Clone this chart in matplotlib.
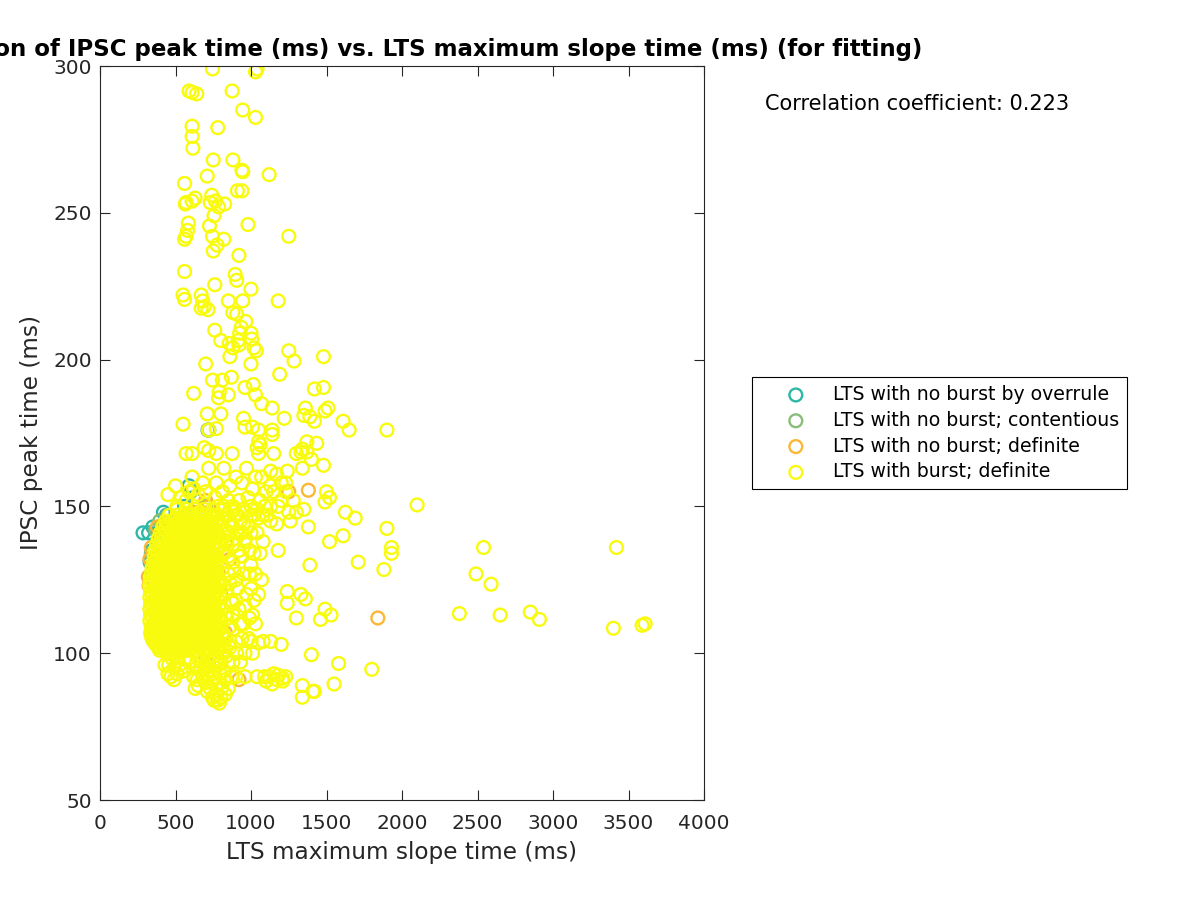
import matplotlib
matplotlib.use('Agg')
import matplotlib.pyplot as plt

# values, (x ms, y ms)
overrule = [(285, 141), (322, 141), (350, 143), (345, 135), (332, 131), (345, 127), (420, 148), (560, 150),
            (720, 176), (590, 157), (700, 150), (440, 147), (380, 141)]
contentious = [(395, 145), (340, 134), (370, 142), (345, 130), (715, 176), (450, 147), (600, 155), (640, 152)]
no_burst = [(1380, 155.5), (1840, 112), (920, 91), (1250, 155), (320, 126), (325, 123), (330, 132), (340, 136),
            (380, 143), (420, 144), (620, 148), (700, 152), (720, 150), (780, 128), (800, 120), (830, 107),
            (660, 105), (700, 99), (800, 97), (560, 101), (600, 108), (860, 132), (830, 138)]

burst_top = [(745, 299), (1040, 299), (1030, 298), (590, 291.5), (610, 291), (640, 290.5), (875, 291.5),
             (945, 285), (1030, 282.5), (610, 279.5), (780, 279), (610, 276), (615, 272), (880, 268), (750, 268),
             (940, 264.5), (945, 264), (1120, 263), (710, 262.5), (560, 260), (910, 257.5), (940, 257.5),
             (740, 256), (630, 255), (610, 254), (765, 254), (570, 253.5), (565, 253), (730, 253.5), (785, 252),
             (825, 253), (755, 249), (585, 246.5), (980, 246), (725, 245.5), (580, 244), (1250, 242), (570, 242),
             (560, 241), (820, 241), (745, 242), (775, 239), (750, 237), (920, 235.5), (560, 230), (895, 229),
             (905, 227), (760, 225.5), (1000, 224), (550, 222), (670, 222), (560, 220.5), (680, 220), (850, 220),
             (945, 220), (1180, 220), (690, 218), (670, 217.5), (715, 217), (880, 216), (905, 215.5), (965, 213),
             (935, 211), (925, 209), (1000, 209), (1005, 207), (915, 206.5), (760, 210), (800, 206.5), (855, 205.5),
             (880, 204), (920, 205), (1020, 204), (1035, 203), (1250, 203), (1285, 199.5), (1480, 201), (1000, 198.5),
             (700, 198.5), (860, 201), (1190, 195), (870, 194), (745, 193), (810, 193), (1015, 191.5), (1480, 190.5),
             (1420, 190), (960, 190.5), (790, 189), (1030, 188), (620, 188.5), (850, 188), (785, 187), (1070, 185),
             (1360, 183.5), (1510, 183.5), (1140, 183.5), (1490, 182.5), (800, 181.5), (710, 181.5), (1350, 181),
             (1390, 180.5), (1220, 180), (950, 180), (1610, 179), (1420, 179), (550, 178), (960, 177), (1010, 177),
             (1050, 176), (770, 176.5), (720, 176), (1900, 176), (1140, 176), (1650, 176), (1140, 174.5), (1050, 172),
             (1370, 172), (1435, 171.5), (1060, 171), (1040, 170), (1340, 169.5), (690, 170), (1330, 168.5),
             (1300, 168), (1370, 168.5), (720, 169), (770, 168), (610, 168), (570, 168), (875, 168), (1050, 168),
             (1150, 168), (1400, 166), (1480, 164), (1340, 163), (1130, 162), (1240, 162), (1170, 161)]

burst_right = [(2100, 150.5), (1625, 148), (1520, 153), (1500, 155), (1490, 151.5), (1350, 149), (1380, 143),
               (1900, 142.5), (1610, 140), (1520, 138), (1930, 136), (1930, 134), (2540, 136), (3420, 136),
               (1710, 131), (1390, 130), (1880, 128.5), (2490, 127), (2590, 123.5), (1240, 121), (1330, 120),
               (1360, 118.5), (1240, 117), (1490, 115), (2380, 113.5), (2850, 114), (2650, 113), (2910, 111.5),
               (1530, 113), (1460, 111.5), (1300, 112), (3400, 108.5), (3590, 109.5), (3610, 110), (1400, 99.5),
               (1580, 96.5), (1800, 94.5), (1200, 103), (1130, 104), (1080, 104), (1050, 103.5), (1340, 89),
               (1550, 89.5), (1410, 87), (1420, 87), (1340, 85), (1100, 90.5), (1120, 92), (1140, 89.5), (1170, 91),
               (1210, 90.5), (1230, 92), (1210, 91.5), (1090, 92), (1150, 93), (1180, 92.5), (1690, 146), (1230, 155),
               (1250, 148), (1280, 152), (1260, 145), (1200, 152), (1170, 144), (1130, 145), (1090, 150), (1180, 135),
               (1060, 134), (1020, 134), (1070, 125), (1050, 120), (1020, 118), (990, 135), (1000, 141), (1020, 147),
               (970, 120), (990, 112), (1000, 104), (1010, 100), (1040, 92), (950, 110), (960, 100), (1130, 157),
               (1180, 150), (1230, 158), (1100, 155), (1070, 160), (1010, 156), (970, 163), (940, 158), (900, 160),
               (860, 157), (820, 163), (770, 158), (720, 163), (680, 158), (610, 160), (590, 155), (500, 157),
               (450, 154), (880, 150), (920, 152), (960, 148), (1000, 150), (1050, 146), (1130, 150), (1300, 148)]

burst_low = [(430, 96), (450, 93), (470, 92), (490, 91), (510, 93), (540, 95), (560, 94), (590, 97), (630, 88),
             (650, 89), (680, 92), (700, 90), (730, 88), (745, 85), (755, 84), (770, 86), (790, 83), (800, 85),
             (830, 86), (850, 88), (870, 92), (900, 92), (930, 97), (960, 92), (640, 95), (670, 97), (700, 96),
             (730, 94), (760, 92), (790, 90), (820, 94), (850, 97), (440, 100), (480, 98), (520, 99), (560, 98),
             (650, 100), (690, 101), (730, 99), (770, 98), (810, 100), (860, 102), (900, 104), (620, 92),
             (455, 96), (490, 95), (525, 96), (470, 100), (505, 101), (540, 101), (645, 91), (665, 94), (690, 95),
             (715, 92), (740, 90), (770, 89), (805, 88), (760, 95), (795, 93), (830, 91), (715, 97), (745, 97),
             (785, 96), (835, 99), (880, 97), (905, 100), (660, 98), (710, 87), (780, 84)]

# looser ring of the cloud on its right side
burst_fringe = [(840, 112), (880, 108), (920, 115), (870, 118), (910, 122), (950, 127), (890, 128), (930, 133),
                (880, 137), (920, 141), (960, 138), (870, 144), (910, 147), (950, 144), (990, 127), (1030, 127),
                (1000, 122), (940, 105), (880, 113), (860, 124), (1030, 110), (985, 105), (1040, 141), (1080, 138),
                (1060, 152), (1105, 147), (980, 153), (1030, 160), (850, 152), (810, 155), (760, 153), (700, 155),
                (650, 154), (620, 156), (540, 153), (570, 152), (510, 150), (660, 148), (1150, 155), (1200, 158),
                (820, 150), (780, 150), (740, 147), (930, 110), (900, 118), (1010, 113), (960, 116), (1000, 130)]

# rows of the solid core of the cloud: y, then the x values on that row
core_rows = [
    (101, [395, 430, 470, 515, 550, 590, 640, 690, 735, 780, 820]),
    (102, [385, 415, 450, 490, 530, 570, 615, 660, 710, 755, 800]),
    (103, [370, 410, 455, 495, 540, 585, 625, 670, 715, 760, 800, 850]),
    (104, [355, 395, 435, 475, 520, 565, 605, 650, 695, 740, 785]),
    (105, [345, 385, 430, 470, 515, 555, 600, 650, 690, 730, 775, 830]),
    (106, [340, 365, 410, 450, 490, 530, 575, 620, 665, 705, 750]),
    (107, [335, 375, 415, 460, 500, 545, 590, 630, 675, 720, 765, 810]),
    (108, [350, 395, 440, 480, 525, 570, 610, 655, 700, 745, 790]),
    (109, [340, 385, 425, 465, 510, 550, 595, 640, 680, 725, 770, 860]),
    (110, [355, 400, 445, 485, 530, 570, 615, 660, 700, 745]),
    (111, [330, 370, 410, 455, 495, 540, 580, 625, 670, 710, 760, 800]),
    (112, [350, 395, 440, 480, 520, 565, 610, 650, 695, 740, 785]),
    (113, [335, 380, 420, 465, 505, 550, 590, 635, 680, 720, 770, 830]),
    (114, [355, 400, 445, 485, 530, 570, 615, 655, 700, 745]),
    (115, [330, 370, 415, 455, 500, 540, 585, 625, 670, 715, 755, 810]),
    (116, [350, 395, 440, 480, 525, 565, 610, 650, 695, 740, 785]),
    (117, [335, 375, 420, 460, 505, 545, 590, 635, 675, 720, 765, 880]),
    (118, [355, 395, 435, 475, 520, 560, 605, 645, 690, 735]),
    (119, [330, 370, 410, 455, 495, 540, 580, 625, 665, 710, 750, 800]),
    (120, [350, 395, 440, 480, 525, 570, 610, 655, 700, 745, 790]),
    (121, [335, 380, 425, 465, 510, 550, 595, 640, 685, 730, 775, 840]),
    (122, [355, 395, 440, 480, 520, 565, 610, 655, 695, 740]),
    (123, [330, 375, 415, 460, 500, 545, 590, 630, 675, 715, 760, 820]),
    (124, [350, 400, 440, 485, 530, 570, 615, 660, 700, 745, 800]),
    (125, [335, 380, 420, 465, 505, 550, 595, 640, 680, 725, 790, 900]),
    (126, [360, 400, 445, 490, 530, 575, 620, 660, 705, 750]),
    (127, [340, 385, 425, 470, 510, 555, 600, 640, 685, 730, 770, 850]),
    (128, [365, 405, 450, 490, 535, 580, 625, 665, 710, 755]),
    (129, [345, 390, 430, 475, 515, 560, 605, 645, 690, 745, 810]),
    (130, [370, 410, 455, 500, 540, 585, 630, 670, 715, 770]),
    (131, [355, 395, 440, 480, 525, 565, 610, 655, 695, 740, 800, 880]),
    (132, [380, 420, 465, 505, 550, 590, 635, 680, 725, 780]),
    (133, [360, 405, 445, 490, 530, 575, 615, 660, 705, 755, 850, 930]),
    (134, [385, 430, 470, 515, 555, 600, 645, 690, 735, 810]),
    (135, [365, 410, 450, 495, 540, 580, 625, 665, 710, 770, 830, 920]),
    (136, [395, 435, 480, 520, 565, 605, 650, 695, 745]),
    (137, [375, 420, 460, 505, 545, 590, 630, 675, 720, 790, 880]),
    (138, [405, 450, 490, 535, 575, 620, 660, 705, 765, 840]),
    (139, [385, 430, 470, 515, 555, 600, 640, 685, 745, 810, 900, 960]),
    (140, [415, 460, 500, 545, 590, 630, 675, 725, 790]),
    (141, [400, 440, 485, 525, 570, 610, 655, 700, 770, 850, 940]),
    (142, [430, 470, 515, 555, 600, 645, 690, 750, 830]),
    (143, [415, 455, 500, 540, 585, 625, 680, 730, 800, 880, 980]),
    (144, [445, 490, 530, 575, 620, 665, 710, 770]),
    (145, [435, 480, 520, 565, 610, 660, 720, 780, 860, 930]),
    (146, [500, 545, 590, 635, 680, 745, 810]),
    (147, [460, 510, 560, 600, 650, 700, 770, 840, 900, 1000, 1080]),
    (149, [510, 570, 630, 690, 750, 820, 880, 950, 1040]),
]

x_ticks = [0, 500, 1000, 1500, 2000, 2500, 3000, 3500, 4000]
y_ticks = [50, 100, 150, 200, 250, 300]
text_color = '#262626'

burst = burst_top + burst_right + burst_low + burst_fringe
for y_row, x_row in core_rows:
    burst = burst + [(x_val, y_row) for x_val in x_row]

fig = plt.figure(figsize=(12, 9), dpi=100)
ax = fig.add_axes([100 / 1200, 100 / 900, 604 / 1200, 734 / 900])

groups = [(overrule, '#2cb7a6', 'LTS with no burst by overrule'),
          (contentious, '#88bf78', 'LTS with no burst; contentious'),
          (no_burst, '#fbb735', 'LTS with no burst; definite'),
          (burst, '#f9fb0e', 'LTS with burst; definite')]
for pts, col, lab in groups:
    xs, ys = zip(*pts)
    ax.scatter(xs, ys, s=85, facecolors='none', edgecolors=col, linewidths=1.7, label=lab, clip_on=True)

ax.set_xlim(0, 4000)
ax.set_ylim(50, 300)
ax.set_xticks(x_ticks)
ax.set_yticks(y_ticks)
ax.tick_params(direction='in', top=True, right=True, length=7, width=0.8, labelsize=14.5,
               colors=text_color)
ax.tick_params(axis='x', pad=10)
ax.tick_params(axis='y', pad=6)
for side in ax.spines.values():
    side.set_color(text_color)
    side.set_linewidth(0.8)
ax.set_xlabel('LTS maximum slope time (ms)', fontsize=16.7, color=text_color, labelpad=6)
ax.set_ylabel('IPSC peak time (ms)', fontsize=16.7, color=text_color, labelpad=7)
ax.set_title('Correlation of IPSC peak time (ms) vs. LTS maximum slope time (ms) (for fitting)',
             fontsize=16.5, fontweight='bold', color='black', pad=7)

fig.text(765 / 1200, 1 - 104 / 900, 'Correlation coefficient: 0.223', fontsize=15, va='center', color='black')

leg = ax.legend(loc='upper left', bbox_to_anchor=(752 / 1200, 1 - 377 / 900), bbox_transform=fig.transFigure,
                fontsize=13.6, frameon=True, fancybox=False, framealpha=1, edgecolor='black',
                borderaxespad=0, borderpad=0.42, labelspacing=0.36, handletextpad=0.05, handlelength=3.8)
leg.get_frame().set_linewidth(0.8)

fig.savefig('out.png', dpi=100)
